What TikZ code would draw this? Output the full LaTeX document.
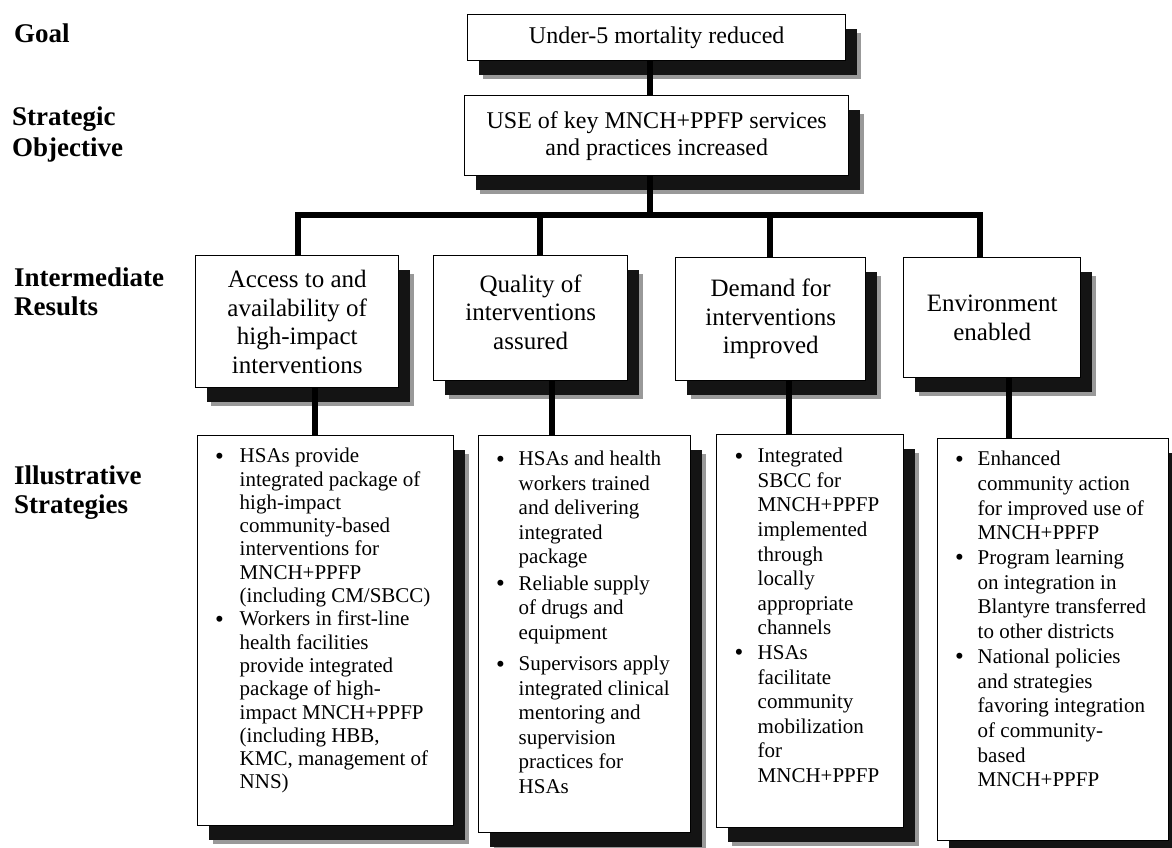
\documentclass[tikz,border=0pt]{standalone}
\usepackage{fontspec}
\setmainfont{Liberation Serif}
\usetikzlibrary{shadows}
\newlength\tind
\newlength\bind
\setlength\bind{17.5pt}
\setlength\tind{41pt}
\newcommand\bitem[2][0pt]{\par\vspace{#1}\noindent\hangindent=\tind\hangafter=1\makebox[\tind][l]{\hspace{\bind}\raisebox{-1.3pt}{\fontsize{25pt}{25pt}\selectfont\textbullet}}#2}
\newcommand\stratbody[4]{\begin{minipage}[t][#2pt][t]{#1pt}\fontsize{21pt}{#3pt}\selectfont\parindent=0pt #4\end{minipage}}
\begin{document}
\begin{tikzpicture}[x=1pt,y=-1pt,
  box/.style={draw, line width=1.4pt, fill=white, inner sep=0pt, anchor=north west,
    general shadow={fill=black!40, shadow xshift=15pt, shadow yshift=-18pt},
    general shadow={fill=black!92, shadow xshift=11pt, shadow yshift=-14pt}},
  topbox/.style={box, align=center, font=\fontsize{24pt}{27pt}\selectfont},
  irbox/.style={box, align=center, font=\fontsize{25pt}{28.5pt}\selectfont},
  conn/.style={line width=5.5pt, line join=miter},
  lbl/.style={anchor=west, align=left, inner sep=0pt, font=\fontsize{27pt}{30pt}\selectfont\bfseries}]
\useasboundingbox[fill=white] (0,0) rectangle (1172,848);

% level labels
\node[lbl] (lgoal) at (14,33) {Goal};
\node[lbl] (lso) at (12,135) {Strategic\\[1pt]Objective};
\node[lbl] (lir) at (14,292) {Intermediate\\[-1pt]Results};
\node[lbl] (lis) at (14,493) {Illustrative\\[-1pt]Strategies};

% goal and strategic objective
\node[topbox, minimum width=378pt, minimum height=46pt] (goal) at (467,14) {Under-5 mortality reduced};
\node[topbox, minimum width=384pt, minimum height=80pt] (so) at (464,95) {USE of key MNCH+PPFP services\\and practices increased};

% intermediate results
\node[irbox, minimum width=203pt, minimum height=132pt] (ir1) at (195,255) {Access to and\\availability of\\high-impact\\interventions};
\node[irbox, minimum width=194pt, minimum height=125pt] (ir2) at (433,255) {Quality of\\interventions\\assured\\[-16pt]};
\node[irbox, minimum width=190pt, minimum height=123pt] (ir3) at (675,257) {Demand for\\interventions\\improved};
\node[irbox, minimum width=177pt, minimum height=120pt] (ir4) at (903,257) {Environment\\enabled};

% illustrative strategies
\node[box] (is1) at (197,435) {\stratbody{256}{390}{23.3}{%
  \setlength\tind{42pt}%
  \bitem{\rule{0pt}{27pt}HSAs provide\\integrated package of\\high-impact\\community-based\\interventions for\\MNCH+PPFP\\(including CM/SBCC)}%
  \bitem{Workers in first-line\\health facilities\\provide integrated\\package of high-\\impact MNCH+PPFP\\(including HBB,\\KMC, management of\\NNS)}\par}};
\node[box] (is2) at (478,435) {\stratbody{212}{397}{24.5}{%
  \setlength\tind{40pt}%
  \bitem{\rule{0pt}{30pt}HSAs and health\\workers trained\\and delivering\\integrated\\package}%
  \bitem[2pt]{Reliable supply\\of drugs and\\equipment}%
  \bitem[7pt]{Supervisors apply\\integrated clinical\\mentoring and\\supervision\\practices for\\HSAs}\par}};
\node[box] (is3) at (716,434) {\stratbody{187}{393}{24.6}{%
  \setlength\bind{18pt}\setlength\tind{41pt}%
  \bitem{\rule{0pt}{28pt}Integrated\\SBCC for\\MNCH+PPFP\\implemented\\through\\locally\\appropriate\\channels}%
  \bitem{HSAs\\facilitate\\community\\mobilization\\for\\MNCH+PPFP}\par}};
\node[box] (is4) at (937,438) {\stratbody{231}{402}{24.7}{%
  \setlength\tind{40pt}%
  \bitem{\rule{0pt}{27pt}Enhanced\\community action\\for improved use of\\MNCH+PPFP}%
  \bitem{Program learning\\on integration in\\Blantyre transferred\\to other districts}%
  \bitem{National policies\\and strategies\\favoring integration\\of community-\\based\\MNCH+PPFP}\par}};

% connector coordinates
\coordinate (c0) at (650,215);
\coordinate (d1) at (298,215);
\coordinate (d2) at (540,215);
\coordinate (d3) at (770,215);
\coordinate (d4) at (980,215);
\coordinate (e1) at (315,400);
\coordinate (e2) at (552,400);
\coordinate (e3) at (789,400);
\coordinate (e4) at (1009,400);

% connectors
\draw[conn] (goal.south -| c0) -- (so.north -| c0);
\draw[conn] (so.south -| c0) -- (c0);
\draw[conn] (ir1.north -| d1) -- (d1) -- (d4) -- (ir4.north -| d4);
\draw[conn] (d2) -- (ir2.north -| d2);
\draw[conn] (d3) -- (ir3.north -| d3);
\draw[conn] (ir1.south -| e1) -- (is1.north -| e1);
\draw[conn] (ir2.south -| e2) -- (is2.north -| e2);
\draw[conn] (ir3.south -| e3) -- (is3.north -| e3);
\draw[conn] (ir4.south -| e4) -- (is4.north -| e4);
\end{tikzpicture}
\end{document}
